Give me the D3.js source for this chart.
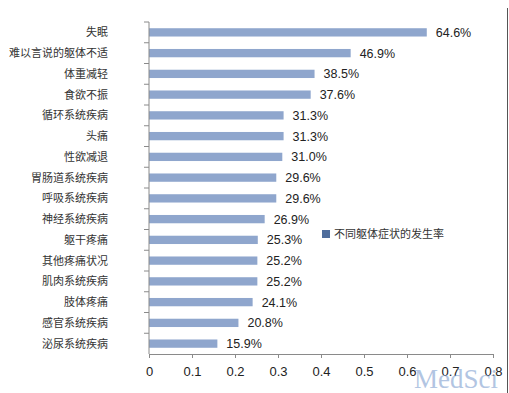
<!DOCTYPE html>
<html>
<head>
<meta charset="utf-8">
<script src="https://cdn.jsdelivr.net/npm/d3@7"></script>
<style>
  body { margin: 0; background: #fff; }
  svg { display: block; }
</style>
</head>
<body>
<div id="chart"></div>
<script>
// data
const categories = ["失眠", "难以言说的躯体不适", "体重减轻", "食欲不振", "循环系统疾病", "头痛", "性欲减退",
  "胃肠道系统疾病", "呼吸系统疾病", "神经系统疾病", "躯干疼痛", "其他疼痛状况", "肌肉系统疾病",
  "肢体疼痛", "感官系统疾病", "泌尿系统疾病"]
const rates = [0.646, 0.469, 0.385, 0.376, 0.313, 0.313, 0.310, 0.296, 0.296, 0.269, 0.253, 0.252, 0.252, 0.241, 0.208, 0.159]
const xTicks = [0, 0.1, 0.2, 0.3, 0.4, 0.5, 0.6, 0.7, 0.8]
const seriesName = "不同躯体症状的发生率"

const width = 509
const height = 393
const margin = {top: 22, right: 16, bottom: 39, left: 149}
const cjk = "'Noto Sans CJK SC', sans-serif"
const num = "'Liberation Sans', Arial, sans-serif"

const svg = d3.select("#chart").append("svg")
    .attr("width", width)
    .attr("height", height)

const x = d3.scaleLinear()
    .domain([0, 0.8])
    .range([margin.left, width - margin.right])

const y = d3.scaleBand()
    .domain(categories)
    .range([margin.top, height - margin.bottom])
    .paddingInner(0.6)
    .paddingOuter(0.3)

// bars
svg.append("g")
    .selectAll("rect")
    .data(categories)
    .enter()
    .append("rect")
    .attr("x", x(0))
    .attr("y", d => y(d))
    .attr("width", (d, i) => x(rates[i]) - x(0))
    .attr("height", y.bandwidth())
    .style("fill", "#8fa6cd")

// value labels
svg.append("g")
    .selectAll("text")
    .data(categories)
    .enter()
    .append("text")
    .attr("x", (d, i) => x(rates[i]) + 9)
    .attr("y", d => y(d) + y.bandwidth() / 2)
    .attr("dy", "0.36em")
    .style("font-family", num)
    .style("font-size", "12.5px")
    .style("fill", "#222")
    .text((d, i) => (rates[i] * 100).toFixed(1) + "%")

// y axis: ticks between categories
const step = y.step()
const yStart = margin.top
const yEnd = height - margin.bottom
const gy = svg.append("g")
gy.append("line")
    .attr("x1", x(0)).attr("x2", x(0))
    .attr("y1", yStart).attr("y2", yEnd)
    .style("stroke", "#8a8a8a")
gy.selectAll("line.tick")
    .data(d3.range(categories.length))
    .enter()
    .append("line")
    .attr("class", "tick")
    .attr("x1", x(0) - 5).attr("x2", x(0))
    .attr("y1", i => yStart + i * (yEnd - yStart) / categories.length)
    .attr("y2", i => yStart + i * (yEnd - yStart) / categories.length)
    .style("stroke", "#8a8a8a")
gy.selectAll("text")
    .data(categories)
    .enter()
    .append("text")
    .attr("x", 108)
    .attr("y", d => y(d) + y.bandwidth() / 2)
    .attr("dy", "0.36em")
    .attr("text-anchor", "end")
    .style("font-family", cjk)
    .style("font-size", "11px")
    .style("fill", "#333")
    .text(d => d)

// x axis
const gx = svg.append("g")
    .attr("transform", "translate(0," + yEnd + ")")
    .call(d3.axisBottom(x).tickValues(xTicks).tickSize(4).tickPadding(9).tickFormat(d3.format("")))
gx.select(".domain").style("stroke", "#8a8a8a")
gx.selectAll(".tick line").style("stroke", "#8a8a8a")
gx.selectAll("text")
    .style("font-family", num)
    .style("font-size", "13px")
    .style("fill", "#222")

// legend
const legend = svg.append("g").attr("transform", "translate(322,234)")
legend.append("rect")
    .attr("x", 0).attr("y", -4)
    .attr("width", 8).attr("height", 8)
    .style("fill", "#4f6d9c")
legend.append("text")
    .attr("x", 12)
    .attr("y", 0)
    .attr("dy", "0.36em")
    .style("font-family", cjk)
    .style("font-size", "11px")
    .style("fill", "#333")
    .text(seriesName)

// right border of the picture
svg.append("line")
    .attr("x1", width - 1.5).attr("x2", width - 1.5)
    .attr("y1", 8).attr("y2", height)
    .style("stroke", "#555")

// watermark
svg.append("text")
    .attr("x", 414)
    .attr("y", 388)
    .style("font-family", "'Liberation Serif', 'DejaVu Serif', serif")
    .style("font-size", "27px")
    .style("fill", "#7f9fd0")
    .style("opacity", 0.6)
    .text("MedSci")
</script>
</body>
</html>
